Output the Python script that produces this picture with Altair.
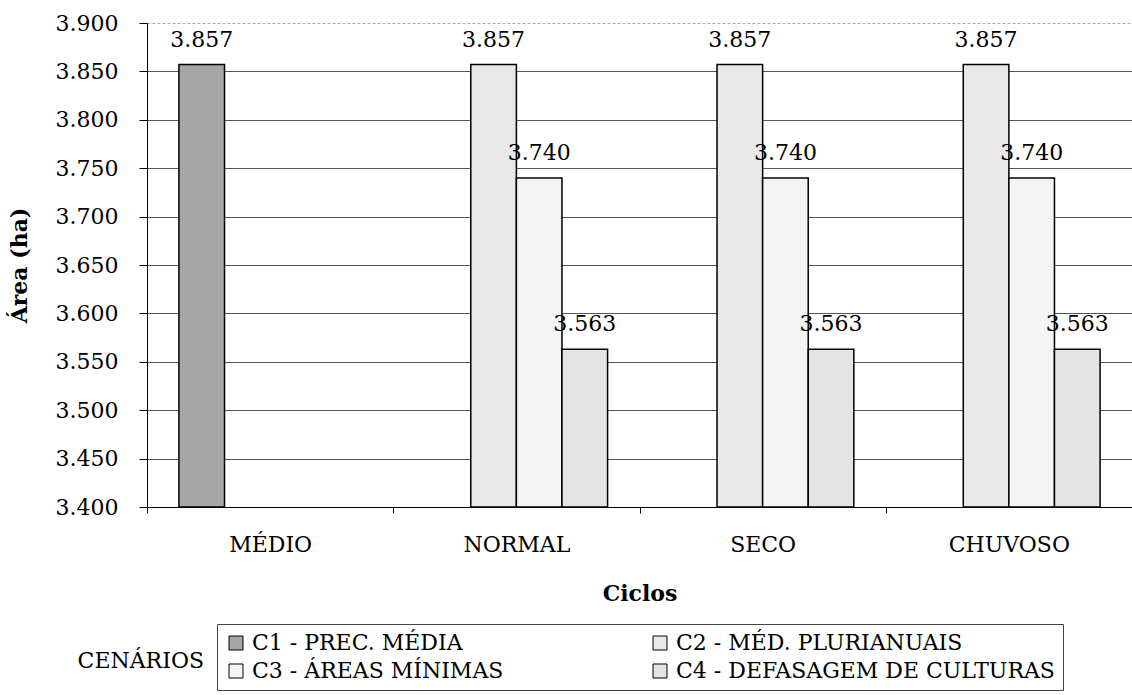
import altair as alt
import pandas as pd

# Cycles on the x axis and the four scenarios (series)
ciclos = ["MÉDIO", "NORMAL", "SECO", "CHUVOSO"]
cenarios = [
    "C1 - PREC. MÉDIA",
    "C2 - MÉD. PLURIANUAIS",
    "C3 - ÁREAS MÍNIMAS",
    "C4 - DEFASAGEM DE CULTURAS",
]

# Irrigated area (ha) per cycle, one entry per scenario (None = not simulated)
area_medio = [3857, None, None, None]
area_normal = [None, 3857, 3740, 3563]
area_seco = [None, 3857, 3740, 3563]
area_chuvoso = [None, 3857, 3740, 3563]

y_ticks = [3400, 3450, 3500, 3550, 3600, 3650, 3700, 3750, 3800, 3850, 3900]
fills = ["#a6a6a6", "#e8e8e8", "#f4f4f4", "#e4e4e4"]

FONT = "DejaVu Serif"

rows = []
for ciclo, valores in zip(ciclos, [area_medio, area_normal, area_seco, area_chuvoso]):
    for cen, v in zip(cenarios, valores):
        if v is not None:
            rows.append({
                "ciclo": ciclo,
                "cenario": cen,
                "area": v,
                "rotulo": f"{v:,}".replace(",", "."),
            })
df = pd.DataFrame(rows)

x_enc = alt.X(
    "ciclo:N",
    sort=ciclos,
    scale=alt.Scale(domain=ciclos, paddingInner=0, paddingOuter=0),
    axis=alt.Axis(
        title="Ciclos",
        titleFont=FONT,
        titleFontSize=22,
        titleFontWeight="bold",
        titleColor="black",
        titlePadding=28,
        labelFont=FONT,
        labelFontSize=22,
        labelColor="black",
        labelAngle=0,
        labelPadding=21,
        tickBand="extent",
        tickSize=6,
        tickColor="black",
        domainColor="black",
        grid=False,
    ),
)
xoff_enc = alt.XOffset(
    "cenario:N",
    sort=cenarios,
    scale=alt.Scale(domain=cenarios, paddingInner=0, paddingOuter=0.7),
)
y_scale = alt.Scale(domain=[3400, 3900], nice=False, zero=False)

bars = alt.Chart(df).mark_bar(stroke="black", strokeWidth=1.5).encode(
    x=x_enc,
    xOffset=xoff_enc,
    y=alt.Y(
        "area:Q",
        scale=y_scale,
        axis=alt.Axis(
            title="Área (ha)",
            titleFont=FONT,
            titleFontSize=22,
            titleFontWeight="bold",
            titleColor="black",
            titlePadding=24,
            values=y_ticks,
            tickCount=11,
            labelOverlap=False,
            labelExpr="replace(format(datum.value, ','), ',', '.')",
            labelFont=FONT,
            labelFontSize=22,
            labelColor="black",
            labelPadding=21,
            tickSize=8,
            tickColor="black",
            domainColor="black",
            grid=True,
            gridColor=alt.condition(alt.datum.value == 3900, alt.value("#aaaaaa"), alt.value("#555555")),
            gridDash=alt.condition(alt.datum.value == 3900, alt.value([3, 2]), alt.value([])),
            gridWidth=1,
        ),
    ),
    y2=alt.datum(3400),
    color=alt.Color(
        "cenario:N",
        sort=cenarios,
        scale=alt.Scale(domain=cenarios, range=fills),
        legend=alt.Legend(
            title=None,
            orient="none",
            legendX=70,
            legendY=601,
            direction="horizontal",
            columns=2,
            columnPadding=145,
            rowPadding=6,
            padding=8,
            strokeColor="#444444",
            symbolType="square",
            symbolSize=196,
            symbolStrokeColor="black",
            symbolStrokeWidth=1,
            labelFont=FONT,
            labelFontSize=22,
            labelColor="black",
            labelOffset=5,
            labelLimit=500,
        ),
    ),
)

labels = alt.Chart(df).mark_text(
    baseline="alphabetic", dy=-18, font=FONT, fontSize=22, color="black"
).encode(
    x=alt.X("ciclo:N", sort=ciclos),
    xOffset=alt.XOffset("cenario:N", sort=cenarios),
    y=alt.Y("area:Q", scale=y_scale),
    text="rotulo:N",
)

legend_title = alt.Chart(pd.DataFrame({"t": ["CENÁRIOS"]})).mark_text(
    align="right", baseline="middle", font=FONT, fontSize=22, color="black"
).encode(
    x=alt.value(57),
    y=alt.value(638),
    text="t:N",
)

chart = (
    alt.layer(bars, labels, legend_title)
    .properties(
        width=985,
        height=484,
        autosize=alt.AutoSizeParams(type="none"),
        padding={"left": 147, "top": 23, "right": 0, "bottom": 188},
        background="white",
    )
    .configure_view(stroke=None)
)

chart.save("out.html", embed_options={"renderer": "svg", "actions": False})
